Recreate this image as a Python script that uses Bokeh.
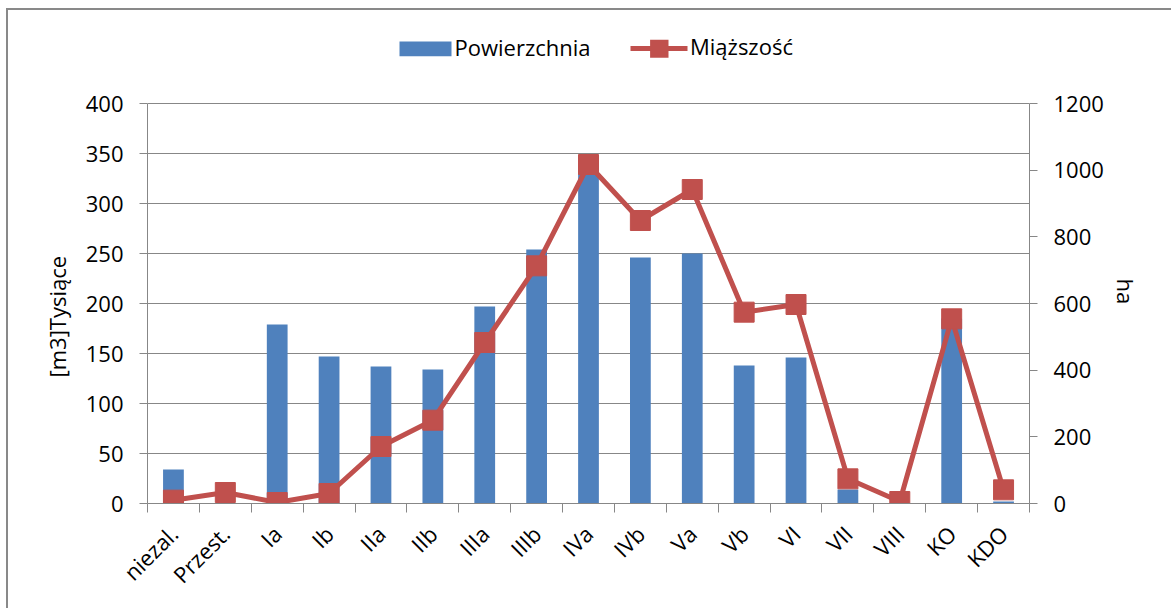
import math
from bokeh.plotting import figure
from bokeh.models import Range1d, LinearAxis, FixedTicker, Label, BoxAnnotation, Title
from bokeh.embed import file_html
from bokeh.resources import INLINE

# ---- data ----
categories = ["niezal.", "Przest.", "Ia", "Ib", "IIa", "IIb", "IIIa", "IIIb",
              "IVa", "IVb", "Va", "Vb", "VI", "VII", "VIII", "KO", "KDO"]
powierzchnia = [34, 0, 179, 147, 137, 134, 197, 254, 340, 246, 250, 138, 146, 14, 0, 185, 2]
miazszosc = [10, 33, 3, 30, 171, 250, 483, 713, 1017, 849, 942, 574, 597, 74, 6, 554, 41]
left_ticks = [0, 50, 100, 150, 200, 250, 300, 350, 400]
right_ticks = [0, 200, 400, 600, 800, 1000, 1200]
series_names = ["Powierzchnia", "Miąższość"]
left_title = "[m3]Tysiące"
right_title = "ha"

FONT = "Open Sans"
FS = "22px"
GRAY = "#878787"
BLUE = "#4F81BD"
RED = "#C0504D"

# layout: the frame also holds the legend strip above the plotted area
AREA_H = 400      # px height of the value area (0..400)
FRAME_H = 475     # frame height incl. legend strip
FRAME_W = 882
ext = FRAME_H / AREA_H

n = len(categories)
xc = [i + 0.5 for i in range(n)]

p = figure(width=1171, height=608, frame_width=FRAME_W, frame_height=FRAME_H,
           output_backend="svg", toolbar_location=None,
           x_range=Range1d(0, n), y_range=Range1d(left_ticks[0], left_ticks[-1] * ext),
           min_border_left=147, min_border_right=142, min_border_top=28, min_border_bottom=105)
p.extra_y_ranges = {"right": Range1d(right_ticks[0], right_ticks[-1] * ext)}
p.outline_line_color = None
p.background_fill_color = "white"
p.border_fill_alpha = 0
p.styles = {
    "background-color": "white",
    "background-image": "linear-gradient(#898989, #898989), linear-gradient(#898989, #898989)",
    "background-size": "2px 100%, 100% 2px",
    "background-position": "6px 8px, 6px 8px",
    "background-repeat": "no-repeat",
}

# bars
bars = p.vbar(x=xc, top=powierzchnia, width=0.4, fill_color=BLUE, line_color=None)
# line + markers
line_r = p.line(x=xc, y=miazszosc, y_range_name="right", line_color=RED, line_width=5,
                line_join="round", line_cap="round")
mark_r = p.scatter(x=xc, y=miazszosc, y_range_name="right", marker="square", size=20,
                   fill_color=RED, line_color=RED, line_width=1)

# grid
p.xgrid.visible = False
p.ygrid.ticker = FixedTicker(ticks=left_ticks)
p.ygrid.grid_line_color = GRAY
p.ygrid.grid_line_width = 1

# x axis
xa = p.xaxis[0]
xa.ticker = FixedTicker(ticks=xc, minor_ticks=list(range(n + 1)))
xa.major_label_overrides = {x: c for x, c in zip(xc, categories)}
xa.major_tick_out = 0
xa.major_tick_in = 0
xa.major_tick_line_color = None
xa.minor_tick_out = 9
xa.minor_tick_in = 0
xa.minor_tick_line_color = GRAY
xa.axis_line_color = GRAY
xa.major_label_orientation = math.pi / 4
xa.major_label_standoff = 17
xa.major_label_text_font = FONT
xa.major_label_text_font_size = FS
xa.major_label_text_color = "black"

# left / right y axes
ya = p.yaxis[0]
ya.ticker = FixedTicker(ticks=left_ticks)
ya.bounds = (left_ticks[0], left_ticks[-1])
right = LinearAxis(y_range_name="right", ticker=FixedTicker(ticks=right_ticks),
                   bounds=(right_ticks[0], right_ticks[-1]))
p.add_layout(right, "right")

for ax in (ya, right):
    ax.axis_line_color = GRAY
    ax.major_tick_line_color = GRAY
    ax.major_tick_out = 8
    ax.major_tick_in = 0
    ax.minor_tick_line_color = None
    ax.major_label_standoff = 16
    ax.major_label_text_font = FONT
    ax.major_label_text_font_size = FS
    ax.major_label_text_color = "black"

# axis titles (side titles, positioned along the value area)
p.add_layout(Title(text=left_title, align="left", offset=126, standoff=21,
                   text_font=FONT, text_font_size=FS, text_font_style="normal",
                   text_color="black"), "left")
p.add_layout(Title(text=right_title, align="left", offset=250, standoff=8,
                   text_font=FONT, text_font_size=FS, text_font_style="normal",
                   text_color="black"), "right")

# legend (screen units relative to the frame's bottom-left corner)
def box(l, r, b, t, color):
    return BoxAnnotation(left=l, right=r, bottom=b, top=t,
                         left_units="screen", right_units="screen",
                         bottom_units="screen", top_units="screen",
                         fill_color=color, fill_alpha=1, line_color=None, level="overlay")

p.add_layout(box(252, 304, 447.3, 462, BLUE))
p.add_layout(Label(x=307, y=456.5, x_units="screen", y_units="screen", text=series_names[0],
                   text_font=FONT, text_font_size=FS, text_baseline="alphabetic",
                   text_color="black"))
p.add_layout(box(483, 540, 452.5, 457.5, RED))
p.add_layout(box(502.6, 521, 445.7, 463.7, RED))
p.add_layout(Label(x=542.5, y=458, x_units="screen", y_units="screen", text=series_names[1],
                   text_font=FONT, text_font_size=FS, text_baseline="alphabetic",
                   text_color="black"))

open("out.html", "w").write(file_html(p, INLINE))
